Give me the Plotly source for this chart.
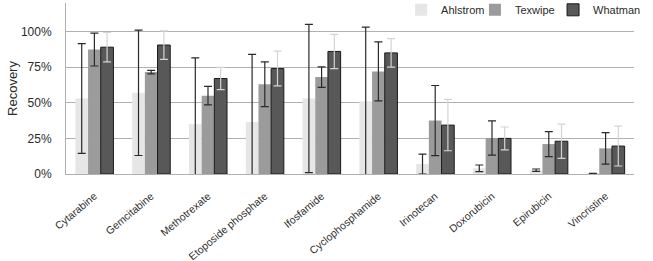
import plotly.graph_objects as go

categories = ["Cytarabine", "Gemcitabine", "Methotrexate", "Etoposide phosphate",
              "Ifosfamide", "Cyclophosphamide", "Irinotecan", "Doxorubicin",
              "Epirubicin", "Vincristine"]

ahlstrom = [0.53, 0.57, 0.35, 0.365, 0.53, 0.51, 0.07, 0.04, 0.027, 0.005]
ahlstrom_err = [0.385, 0.44, 0.465, 0.475, 0.52, 0.52, 0.07, 0.023, 0.008, 0.0]

texwipe = [0.873, 0.715, 0.55, 0.63, 0.68, 0.72, 0.375, 0.253, 0.21, 0.18]
texwipe_err = [0.115, 0.012, 0.065, 0.157, 0.072, 0.207, 0.246, 0.12, 0.088, 0.11]

whatman = [0.89, 0.905, 0.67, 0.74, 0.86, 0.85, 0.343, 0.25, 0.23, 0.196]
whatman_err = [0.103, 0.10, 0.078, 0.122, 0.12, 0.10, 0.18, 0.08, 0.12, 0.14]

tick_vals = [0, 0.25, 0.5, 0.75, 1.0]
tick_text = ["0%", "25%", "50%", "75%", "100%"]

TXT = "#2b2b2b"

fig = go.Figure()
fig.add_trace(go.Bar(
    name="Ahlstrom", x=categories, y=ahlstrom, legend="legend",
    marker=dict(color="#e6e6e6", line=dict(width=0)),
    error_y=dict(type="data", array=ahlstrom_err, color="#2a2a2a", thickness=1.2, width=4),
))
fig.add_trace(go.Bar(
    name="Texwipe", x=categories, y=texwipe, legend="legend2",
    marker=dict(color="#9b9b9b", line=dict(width=0)),
    error_y=dict(type="data", array=texwipe_err, color="#2a2a2a", thickness=1.2, width=4),
))
fig.add_trace(go.Bar(
    name="Whatman", x=categories, y=whatman, legend="legend3",
    marker=dict(color="#585858", line=dict(color="#1a1a1a", width=1)),
    error_y=dict(type="data", array=whatman_err, color="#d4d4d4", thickness=1.2, width=4),
))

def leg(xpos):
    return dict(orientation="h", x=xpos, xanchor="left", y=1.045, yanchor="top",
                font=dict(size=11, color=TXT), bgcolor="rgba(255,255,255,0)")

fig.update_layout(
    width=653, height=261,
    margin=dict(l=66, r=19, t=3, b=87, autoexpand=False),
    paper_bgcolor="white", plot_bgcolor="white",
    barmode="group", bargap=0.33, bargroupgap=0,
    font=dict(family="Liberation Sans, Arial, sans-serif", color=TXT, size=11),
    legend=leg(0.59), legend2=leg(0.72), legend3=leg(0.8575),
    showlegend=True,
)
fig.update_yaxes(
    range=[0, 1.2], tickvals=tick_vals, ticktext=tick_text, automargin=False,
    showgrid=True, gridcolor="#b0b0b0", gridwidth=1,
    showline=True, linecolor="#b0b0b0", linewidth=1,
    zeroline=False, ticks="", ticklabelstandoff=11,
    title=dict(text="Recovery", font=dict(size=13, color=TXT), standoff=0),
    tickfont=dict(size=12, color=TXT),
)
fig.update_xaxes(
    tickangle=-40, showline=True, linecolor="#b0b0b0", linewidth=1, automargin=False,
    ticks="", ticklabelstandoff=11, tickfont=dict(size=10.5, color=TXT),
)

fig.write_html("out.html")
